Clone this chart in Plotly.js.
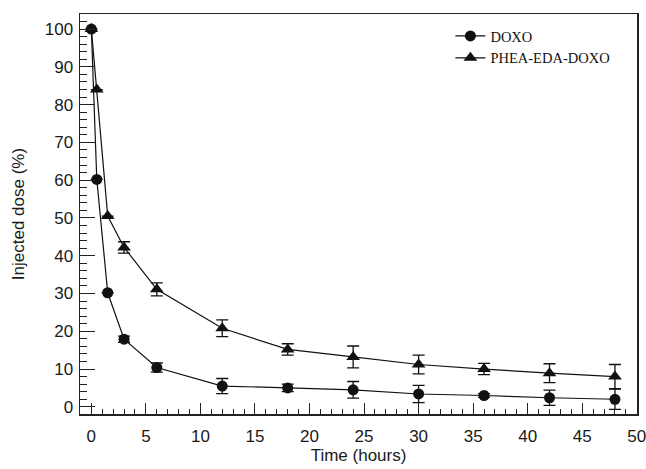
<!DOCTYPE html>
<html>
<head>
<meta charset="utf-8">
<script src="https://cdn.plot.ly/plotly-3.0.1.min.js"></script>
<style>html,body{margin:0;padding:0;background:#fff;}#chart{width:646px;height:469px;}</style>
</head>
<body>
<div id="chart"></div>
<script>
const timeHours = [0, 0.5, 1.5, 3, 6, 12, 18, 24, 30, 36, 42, 48];
const doxo = [100, 60.2, 30.2, 17.9, 10.4, 5.5, 5.0, 4.5, 3.4, 3.0, 2.4, 2.0];
const doxoErr = [0, 0, 0, 0.8, 1.2, 2.0, 1.0, 2.2, 2.3, 0.5, 2.0, 2.7];
const phea = [100, 84, 50.5, 42.2, 31.1, 20.8, 15.2, 13.2, 11.2, 10.0, 8.9, 8.0];
const pheaErr = [0, 0, 0, 1.5, 1.7, 2.2, 1.5, 2.9, 2.5, 1.5, 2.5, 3.2];
const seriesNames = ['DOXO', 'PHEA-EDA-DOXO'];
const yTitle = 'Injected dose (%)';
const xTitle = 'Time (hours)';

const errStyle = (arr) => ({type: 'data', array: arr, visible: true, color: '#111', thickness: 1.3, width: 6});

const traces = [
  {x: timeHours, y: doxo, name: seriesNames[0], mode: 'lines+markers', type: 'scatter',
   line: {color: '#111', width: 1.2}, marker: {symbol: 'circle', size: 11, color: '#111'},
   error_y: errStyle(doxoErr)},
  {x: timeHours, y: phea, name: seriesNames[1], mode: 'lines+markers', type: 'scatter',
   line: {color: '#111', width: 1.2}, marker: {symbol: 'triangle-up', size: 12, color: '#111'},
   error_y: errStyle(pheaErr)}
];

const axisFont = {family: 'Liberation Sans, Arial, sans-serif', size: 17, color: '#1a1a1a'};

const layout = {
  width: 646, height: 469,
  margin: {l: 80, r: 9, t: 14, b: 55},
  paper_bgcolor: '#fff', plot_bgcolor: '#fff',
  showlegend: true,
  legend: {x: 0.665, y: 0.985, xanchor: 'left', yanchor: 'top', bgcolor: 'rgba(0,0,0,0)',
           font: {family: 'Liberation Serif, Times New Roman, serif', size: 14.5, color: '#111'},
           tracegroupgap: 0, itemwidth: 30},
  xaxis: {
    range: [-1.04, 50.02], tickmode: 'linear', tick0: 0, dtick: 5,
    ticks: 'inside', ticklen: 11, tickwidth: 1, tickcolor: '#222',
    minor: {dtick: 1, ticks: 'inside', ticklen: 5, tickcolor: '#222', tickwidth: 1},
    showgrid: false, zeroline: false, showline: true, mirror: true, linecolor: '#222', linewidth: 1.5,
    tickfont: axisFont, ticklabelstandoff: 6, ticklabeloverflow: 'allow',
    title: {text: xTitle, font: axisFont, standoff: 4}
  },
  yaxis: {
    range: [-1.9, 104], tickmode: 'linear', tick0: 0, dtick: 10,
    ticks: 'inside', ticklen: 15, tickwidth: 1, tickcolor: '#222',
    minor: {dtick: 2, ticks: 'inside', ticklen: 7, tickcolor: '#222', tickwidth: 1},
    showgrid: false, zeroline: false, showline: true, mirror: true, linecolor: '#222', linewidth: 1.5,
    tickfont: axisFont, ticklabelstandoff: 2
  },
  annotations: [{
    text: yTitle, xref: 'paper', yref: 'paper', x: -0.111, y: 0.5,
    xanchor: 'center', yanchor: 'middle', textangle: -90, showarrow: false, font: axisFont
  }]
};

Plotly.newPlot('chart', traces, layout, {displayModeBar: false, staticPlot: true});
</script>
</body>
</html>
